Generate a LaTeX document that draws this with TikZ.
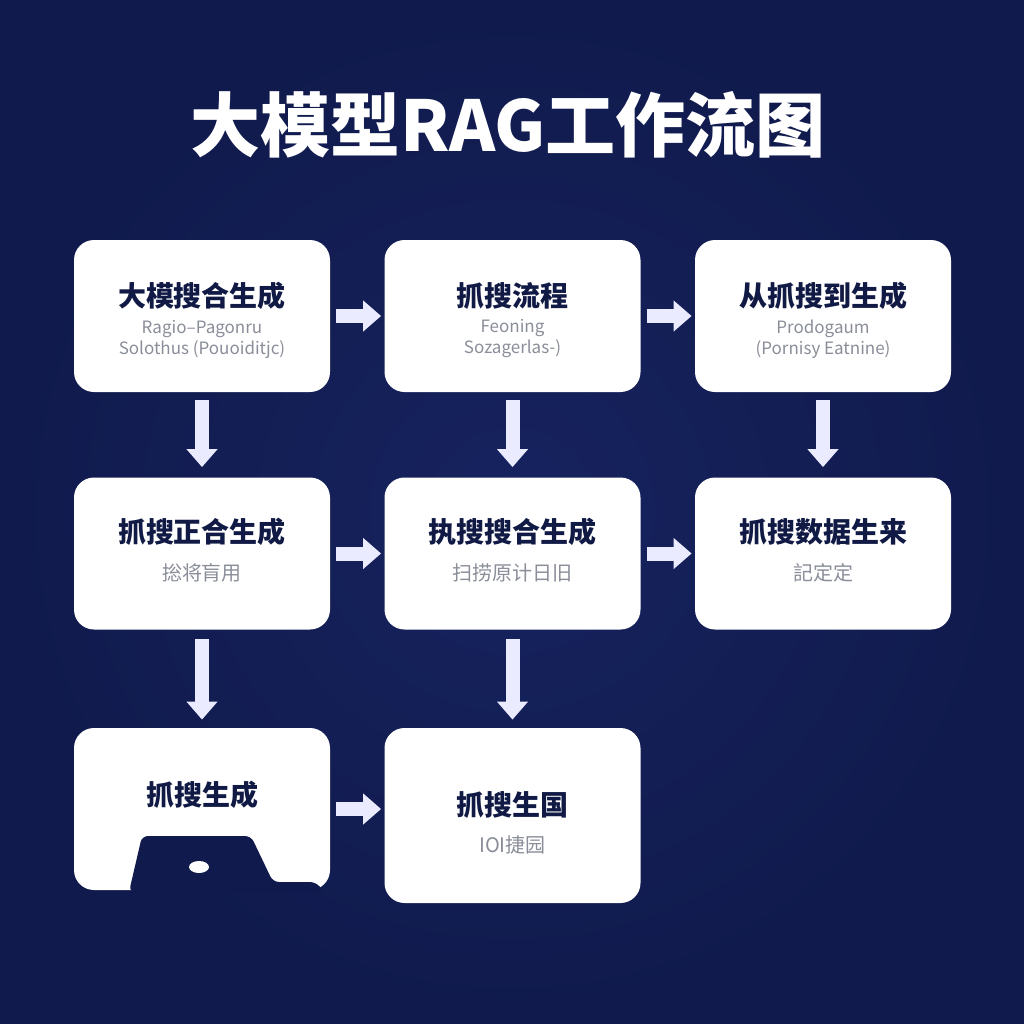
\documentclass[tikz,border=0pt]{standalone}
\usepackage{fontspec}
\newfontfamily\cjk{Noto Sans CJK SC}
\usetikzlibrary{arrows.meta, positioning}

\definecolor{navybg}{HTML}{101A4C}
\definecolor{navyin}{HTML}{17235F}
\definecolor{navytxt}{HTML}{111A45}
\definecolor{subgray}{HTML}{8A8E99}

\tikzset{
  card/.style={draw=none, fill=white, rounded corners=10pt, minimum width=128pt, minimum height=76pt},
  headtxt/.style={font=\cjk\bfseries\fontsize{14}{16}\selectfont, text=navytxt},
  subtxt/.style={font=\cjk\fontsize{8.5}{10.5}\selectfont, text=subgray, align=center},
  subcjk/.style={font=\cjk\fontsize{10}{12}\selectfont, text=subgray},
  flow/.style={draw=white!92!blue, line width=7pt, -{Triangle[length=9pt,width=15pt]}}
}

\begin{document}
\begin{tikzpicture}[x=0.5pt, y=-0.5pt]

% Background
\useasboundingbox (0,0) rectangle (1024,1024);
\shade[inner color=navyin, outer color=navybg] (0,0) rectangle (1024,1024);

% Title
\node[font=\cjk\bfseries\fontsize{35}{40}\selectfont, text=white] (title) at (508,125) {大模型RAG工作流图};

% Cards (Row 1)
\node[card] (b1) at (202,316) {};
\node[card] (b2) at (512.5,316) {};
\node[card] (b3) at (823,316) {};

% Cards (Row 2)
\node[card] (b4) at (202,553.5) {};
\node[card] (b5) at (512.5,553.5) {};
\node[card] (b6) at (823,553.5) {};

% Cards (Row 3)
\node[card, minimum height=81pt] (b7) at (202,809) {};
\node[card, minimum height=87.5pt] (b8) at (512.5,815.5) {};

% dark cut-out at the foot of the last left card
\fill[navybg, rounded corners=3pt] (129,892) -- (142,836) -- (251,836) -- (273,882) -- (316,882) -- (324,892) -- cycle;
\fill[white] (199,867) ellipse (10 and 6);

% Headings
\node[headtxt] (h1) at (202,296) {大模搜合生成};
\node[headtxt] (h2) at (512.5,296) {抓搜流程};
\node[headtxt] (h3) at (823,296) {从抓搜到生成};
\node[headtxt] (h4) at (202,532) {抓搜正合生成};
\node[headtxt] (h5) at (512.5,532) {执搜搜合生成};
\node[headtxt] (h6) at (823,532) {抓搜数据生来};
\node[headtxt] (h7) at (202,795) {抓搜生成};
\node[headtxt] (h8) at (512.5,805) {抓搜生国};

% Sub labels
\node[subtxt] (s1) at (202,339) {Ragio–Pagonru\\Solothus (Pouoiditjc)};
\node[subtxt] (s2) at (512.5,339) {Feoning\\Sozagerlas-)};
\node[subtxt] (s3) at (823,339) {Prodogaum\\(Pornisy Eatnine)};
\node[subcjk] (s4) at (202,573) {捴将肓用};
\node[subcjk] (s5) at (512.5,573) {扫捞原计日旧};
\node[subcjk] (s6) at (823,573) {記定定};
\node[subcjk] (s8) at (512.5,845) {IOI捷园};

% Arrows across
\draw[flow, shorten <=3pt, shorten >=1.5pt] (b1) -- (b2);
\draw[flow, shorten <=3pt, shorten >=1.5pt] (b2) -- (b3);
\draw[flow, shorten <=3pt, shorten >=1.5pt] (b4) -- (b5);
\draw[flow, shorten <=3pt, shorten >=1.5pt] (b5) -- (b6);
\draw[flow, shorten <=3pt, shorten >=1.5pt] (b7.east) -- (b7.east -| b8.west);

% Arrows down
\draw[flow, shorten <=4pt, shorten >=5pt] (b1) -- (b4);
\draw[flow, shorten <=4pt, shorten >=5pt] (b2) -- (b5);
\draw[flow, shorten <=4pt, shorten >=5pt] (b3) -- (b6);
\draw[flow, shorten <=4.5pt, shorten >=4pt] (b4) -- (b7);
\draw[flow, shorten <=4.5pt, shorten >=4pt] (b5) -- (b8);

\end{tikzpicture}
\end{document}
